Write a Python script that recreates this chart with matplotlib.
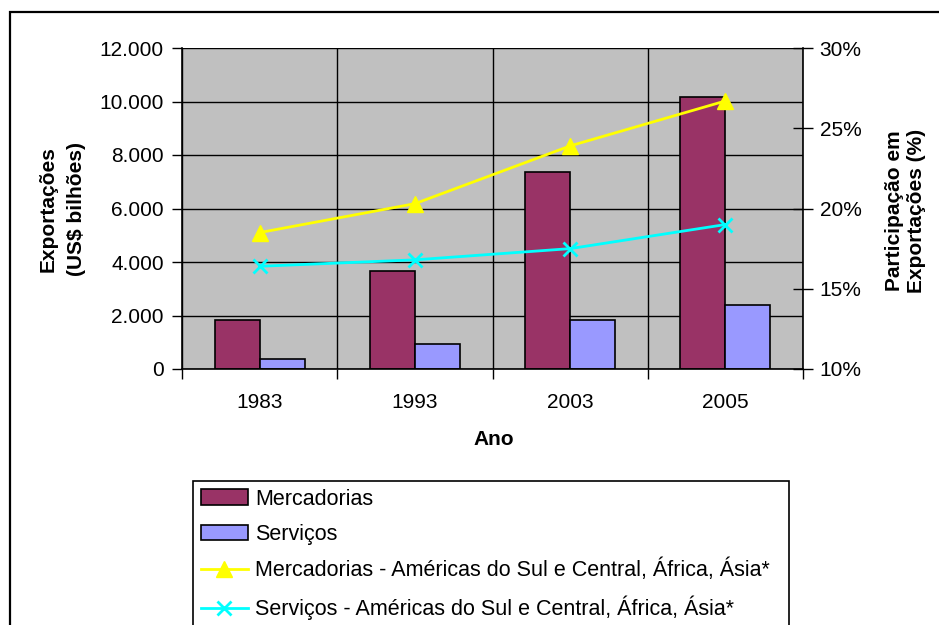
import matplotlib
matplotlib.use("Agg")
import matplotlib.pyplot as plt
from matplotlib.patches import Rectangle
from matplotlib.ticker import FuncFormatter, MultipleLocator, FixedLocator

plt.rcParams["font.family"] = ["Liberation Sans", "DejaVu Sans"]

# Data
years = ["1983", "1993", "2003", "2005"]
mercadorias = [1830, 3680, 7380, 10170]       # US$ bilhoes
servicos = [370, 950, 1830, 2400]             # US$ bilhoes
share_mercadorias = [18.5, 20.3, 23.9, 26.7]  # %
share_servicos = [16.4, 16.8, 17.5, 19.0]     # %

MERC_COLOR = "#993366"
SERV_COLOR = "#9999FF"
YELLOW = "#FFFF00"
CYAN = "#00FFFF"
FS = 15

W, H = 939, 625
fig = plt.figure(figsize=(W / 100, H / 100), dpi=100)

# plot area in pixel coordinates
left, right, top, bottom = 182, 803, 48, 369
ax = fig.add_axes([left / W, 1 - bottom / H, (right - left) / W, (bottom - top) / H])
ax.set_facecolor("#C0C0C0")
ax.set_axisbelow(True)

x = list(range(len(years)))
bar_w = 0.29
ax.bar([i - bar_w / 2 for i in x], mercadorias, width=bar_w,
       color=MERC_COLOR, edgecolor="black", linewidth=1.2, label="Mercadorias")
ax.bar([i + bar_w / 2 for i in x], servicos, width=bar_w,
       color=SERV_COLOR, edgecolor="black", linewidth=1.2, label="Serviços")

ax.set_xlim(-0.5, len(years) - 0.5)
ax.set_ylim(0, 12000)
ax.yaxis.set_major_locator(MultipleLocator(2000))
ax.yaxis.set_major_formatter(FuncFormatter(lambda v, p: f"{v:,.0f}".replace(",", ".")))

# category boundaries carry the ticks and vertical gridlines
ax.xaxis.set_major_locator(FixedLocator([i - 0.5 for i in range(len(years) + 1)]))
ax.xaxis.set_major_formatter(FuncFormatter(lambda v, p: ""))
ax.xaxis.set_minor_locator(FixedLocator(x))
ax.set_xticklabels(years, minor=True)

ax.grid(True, which="major", color="black", linewidth=1.0)
ax.tick_params(axis="x", which="major", direction="out", length=7, width=1)
ax.tick_params(axis="x", which="minor", length=0, pad=17, labelsize=FS)
ax.tick_params(axis="y", direction="out", length=7, width=1, pad=6, labelsize=FS)

for side in ["top", "right"]:
    ax.spines[side].set_visible(False)
for side in ["left", "bottom"]:
    ax.spines[side].set_color("black")
    ax.spines[side].set_linewidth(1.2)

# secondary axis with shares
ax2 = ax.twinx()
ax2.plot(x, share_mercadorias, color=YELLOW, linewidth=2, marker="^",
         markersize=11, label="Mercadorias - Américas do Sul e Central, África, Ásia*")
ax2.plot(x, share_servicos, color=CYAN, linewidth=2, marker="x",
         markersize=10, markeredgewidth=2,
         label="Serviços - Américas do Sul e Central, África, Ásia*")
ax2.set_ylim(10, 30)
ax2.yaxis.set_major_locator(MultipleLocator(5))
ax2.yaxis.set_major_formatter(FuncFormatter(lambda v, p: f"{v:.0f}%"))
ax2.tick_params(axis="y", direction="inout", length=14, width=1, pad=5, labelsize=FS)
for side in ["top", "left", "bottom"]:
    ax2.spines[side].set_visible(False)
ax2.spines["right"].set_color("black")
ax2.spines["right"].set_linewidth(1.2)

# axis titles
fig.text(62 / W, 1 - 209 / H, "Exportações\n(US$ bilhões)", rotation=90,
         ha="center", va="center", fontsize=FS, fontweight="bold",
         multialignment="center", linespacing=1.6)
fig.text(905 / W, 1 - 211 / H, "Participação em\nExportações (%)", rotation=90,
         ha="center", va="center", fontsize=FS, fontweight="bold", multialignment="center")
fig.text(494 / W, 1 - 439.5 / H, "Ano", ha="center", va="center",
         fontsize=FS, fontweight="bold")

# legend below the chart, cut off by the figure edge like the original
h1, l1 = ax.get_legend_handles_labels()
h2, l2 = ax2.get_legend_handles_labels()
leg = fig.legend(h1 + h2, l1 + l2, loc="upper left",
                 bbox_to_anchor=(193 / W, 0.0, (789 - 193) / W, 1 - 481 / H),
                 mode="expand", borderaxespad=0, fontsize=15.5,
                 frameon=True, fancybox=False, framealpha=1,
                 handlelength=2.2, handletextpad=0.35, labelspacing=0.66,
                 borderpad=0.35)
leg.get_frame().set_edgecolor("black")
leg.get_frame().set_linewidth(1.2)

# outer chart border
fig.patches.append(Rectangle((10 / W, -0.05), 1.1, 1 - 12 / H + 0.05,
                             transform=fig.transFigure, fill=False,
                             edgecolor="black", linewidth=1.6, clip_on=False))

fig.savefig("out.png", dpi=100)
